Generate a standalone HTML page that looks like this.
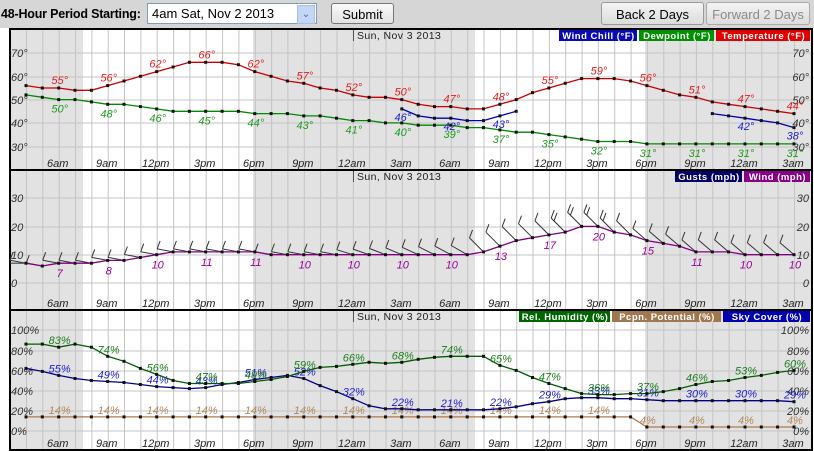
<!DOCTYPE html>
<html><head><meta charset="utf-8">
<style>
html,body{margin:0;padding:0;background:#fff;width:814px;height:451px;overflow:hidden;font-family:"Liberation Sans",sans-serif;}
#top{position:absolute;left:0;top:0;width:814px;height:28px;background:#d6d6d6;}
.lbl{position:absolute;left:1px;top:7px;font-weight:bold;font-size:12.5px;color:#000;letter-spacing:-0.2px;}
.sel{position:absolute;left:147px;top:3px;width:164px;height:19px;background:#fff;border:1px solid #7f9db9;font-size:13px;line-height:19px;padding-left:4px;box-sizing:content-box;}
.sel .dd{position:absolute;right:1px;top:1px;width:16px;height:17px;background:#c4d6f5;border:1px solid #a8bfe8;color:#4a6aa8;font-size:10px;text-align:center;line-height:17px;}
.btn{position:absolute;top:3px;height:21px;border:1px solid #777;border-radius:3px;background:linear-gradient(#fafafa,#e2e2e2);font-size:13px;text-align:center;line-height:21px;box-sizing:border-box;}
</style></head><body>
<div id="top">
<div class="lbl">48-Hour Period Starting:</div>
<div class="sel">4am Sat, Nov 2 2013<div class="dd">&#8964;</div></div>
<div class="btn" style="left:331px;width:63px;">Submit</div>
<div class="btn" style="left:601px;width:103px;top:2px;height:23px;line-height:23px;background:linear-gradient(#f4f4f4,#dcdcdc);border-color:#999;">Back 2 Days</div>
<div class="btn" style="left:706px;width:104px;top:2px;height:23px;line-height:23px;color:#8a8a8a;background:linear-gradient(#f4f4f4,#dcdcdc);border-color:#aaa;">Forward 2 Days</div>
</div>
<svg id="c" width="814" height="451" style="position:absolute;left:0;top:0" xmlns="http://www.w3.org/2000/svg"></svg>
<script>
var s=document.getElementById('c');var h='';
function X(i){return 26+16.34*i;}
var times=['6am','9am','12pm','3pm','6pm','9pm','12am','3am','6am','9am','12pm','3pm','6pm','9pm','12am','3am'];
function panel(t,b,ticks,legend){
 h+='<rect x="10" y="'+t+'" width="802" height="'+(b-t)+'" fill="#fff"/>';
 [[10,83],[253,475],[645,812]].forEach(function(r){h+='<rect x="'+r[0]+'" y="'+t+'" width="'+(r[1]-r[0])+'" height="'+(b-t)+'" fill="#e2e2e2"/>';});
 for(var i=0;i<48;i++){h+='<line x1="'+(X(i)+.5).toFixed(1)+'" y1="'+t+'" x2="'+(X(i)+.5).toFixed(1)+'" y2="'+b+'" stroke="#c4c4c4" stroke-width="1"/>';}
 ticks.forEach(function(k){h+='<line x1="10" y1="'+k[0]+'" x2="812" y2="'+k[0]+'" stroke="#c4c4c4"/>';
  h+='<text x="11" y="'+(k[0]+4)+'" font-size="11" font-style="italic" fill="#333">'+k[1]+'</text>';
  h+='<text x="809" y="'+(k[0]+4)+'" font-size="11" font-style="italic" fill="#333" text-anchor="end">'+k[1]+'</text>';});
 h+='<line x1="353.5" y1="'+t+'" x2="353.5" y2="'+(t+12)+'" stroke="#555"/>';
 h+='<text x="357" y="'+(t+10)+'" font-size="10.5" fill="#222" letter-spacing=".4">Sun, Nov 3 2013</text>';
 times.forEach(function(tm,j){h+='<text x="'+(X(2+3*j)-1)+'" y="'+(b-3)+'" font-size="11" font-style="italic" fill="#222" text-anchor="middle">'+tm+'</text>';});
 var xr=811;
 legend.slice().reverse().forEach(function(l){var w=l[2];xr-=w;h+='<rect x="'+xr+'" y="'+(t+1)+'" width="'+(w-1)+'" height="11" fill="'+l[1]+'"/><text x="'+(xr+w/2)+'" y="'+(t+10)+'" font-size="9.5" font-weight="bold" fill="#fff" text-anchor="middle" letter-spacing=".5">'+l[0]+'</text>';xr-=1;});
 h+='<rect x="10" y="'+t+'" width="802" height="'+(b-t)+'" fill="none" stroke="#000" stroke-width="2"/>';
}
function series(vals,Y,col,lcol,lab,off,suf,start){
 start=start||0;var p='';
 for(var i=0;i<vals.length;i++){if(vals[i]==null){continue;}var c=(p===''||vals[i-1]==null)?'M':'L';p+=c+X(i+start).toFixed(1)+' '+Y(vals[i]).toFixed(1)+' ';}
 h+='<path d="'+p+'" fill="none" stroke="'+col+'" stroke-width="1.3"/>';
 for(var i=0;i<vals.length;i++){if(vals[i]==null)continue;h+='<rect x="'+(X(i+start)-1.5).toFixed(1)+'" y="'+(Y(vals[i])-1.5).toFixed(1)+'" width="3" height="3" fill="#111"/>';
  if(lab(i+start))h+='<text x="'+(X(i+start)+1).toFixed(1)+'" y="'+(Y(vals[i])+off).toFixed(1)+'" font-size="11" font-style="italic" fill="'+lcol+'" text-anchor="middle">'+vals[i]+suf+'</text>';}
}
function L3(i){return (i-2)%3==0;}
panel(29,170,[[53,'70°'],[77,'60°'],[100,'50°'],[123,'40°'],[147,'30°']],[['Wind Chill (°F)','#0a0ab0',79],['Dewpoint (°F)','#009000',76],['Temperature (°F)','#e00000',95]]);
var YT=function(v){return 53+(70-v)*2.33;};
var T=[56,55,55,54,54,56,58,60,62,64,66,66,66,65,62,60,58,57,55,54,52,51,51,50,48,47,47,46,46,48,50,53,55,57,59,59,59,58,56,54,52,51,49,48,47,46,45,44];
var D=[52,51,50,50,49,48,48,47,46,45,45,45,45,45,44,44,44,43,43,42,41,41,40,40,39,39,39,38,38,37,36,36,35,34,33,32,32,32,31,31,31,31,31,31,31,31,31,31];
series(D,YT,'#008800','#229922',L3,13,'°');
var WC=[46,43,42,42,41,41,43,45,null,null,null,null,null,null,null,null,null,null,null,44,43,42,41,40,38];
series(WC,YT,'#0000b0','#2222cc',function(i){return i==23||i==26||i==29||i==44||i==47;},12,'°',23);
series(T,YT,'#cc0000','#e02020',L3,-4,'°');
panel(170,310,[[198,'30'],[227,'20'],[255,'10'],[283,'0']],[['Gusts (mph)','#000066',68],['Wind (mph)','#880088',67]]);
var YW=function(v){return 283-v*2.83;};
var W=[7,6,7,7,7,8,8,9,10,11,11,11,11,11,11,10,10,10,10,10,10,10,10,10,10,10,10,10,11,13,15,16,17,18,20,20,18,17,15,14,13,11,11,11,10,10,10,10];
for(var i=0;i<48;i++){var x=X(i),y=YW(W[i]);var dy=i<8?3:(i<20?3:(i<28?5+(i-20)*0.6:(i<38?14:12)));var dx=i<28?16:14;
 if(i==0){h+='<line x1="10" y1="'+y+'" x2="'+x+'" y2="'+y+'" stroke="#333"/>';}
 var ex=x-dx,ey=y-dy;h+='<line x1="'+x.toFixed(1)+'" y1="'+y.toFixed(1)+'" x2="'+ex.toFixed(1)+'" y2="'+ey.toFixed(1)+'" stroke="#333"/>';
 var nb=W[i]>=18?2:1;for(var k=0;k<nb;k++){var bx=ex+k*dx*0.2,by=ey+k*dy*0.2;h+='<line x1="'+bx.toFixed(1)+'" y1="'+by.toFixed(1)+'" x2="'+(bx+3).toFixed(1)+'" y2="'+(by-8).toFixed(1)+'" stroke="#333"/>';}}
series(W,YW,'#800080','#990099',L3,14,'');
panel(310,450,[[330,'100%'],[351,'80%'],[371,'60%'],[391,'40%'],[411,'20%'],[431,'0%']],[['Rel. Humidity (%)','#006600',92],['Pcpn. Potential (%)','#a07850',110],['Sky Cover (%)','#0000b0',88]]);
var YP=function(v){return 431-v*1.01;};
var P=[];for(var i=0;i<48;i++)P.push(i<38?14:4);
series(P,YP,'#b07848','#b08860',L3,-3,'%');
var SC=[62,59,55,52,50,49,48,46,44,43,42,43,46,48,51,53,55,52,45,39,32,25,22,22,21,21,21,21,21,22,24,27,29,32,33,33,32,32,31,30,30,30,30,30,30,30,30,29];
series(SC,YP,'#00008b','#2222cc',L3,-3,'%');
var RH=[86,86,83,86,83,74,69,62,56,50,47,47,47,47,49,51,54,59,63,64,66,68,67,68,71,73,74,74,74,65,60,53,47,42,37,36,36,37,37,39,42,46,49,50,53,55,58,60];
series(RH,YP,'#005f00','#1f7f1f',L3,-3,'%');
s.innerHTML=h;
</script>
</body></html>
